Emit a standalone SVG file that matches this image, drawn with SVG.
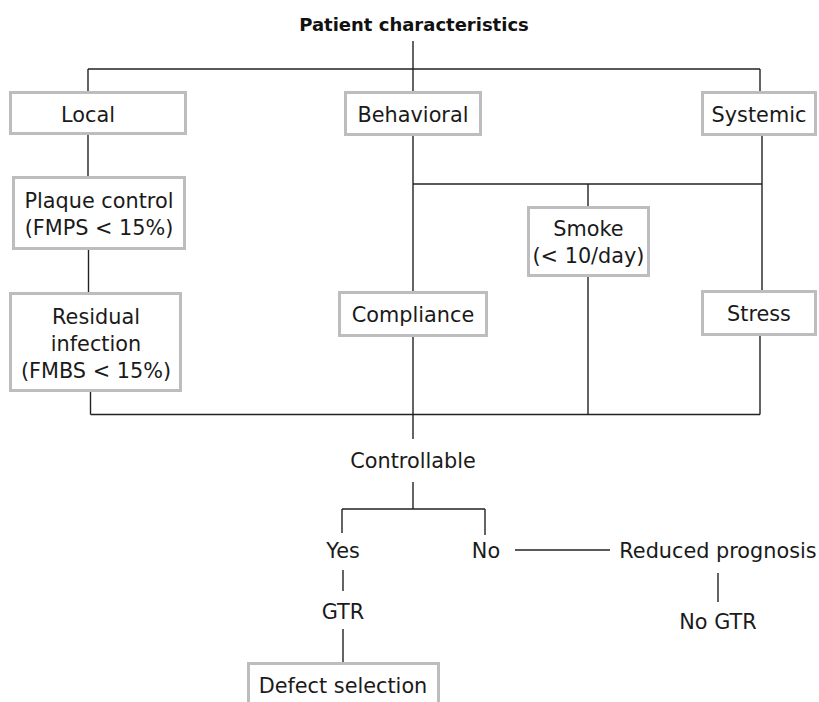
<svg xmlns="http://www.w3.org/2000/svg" width="819" height="702" viewBox="0 0 819 702">
  <style>
    .box { fill: #ffffff; stroke: #bdbdbf; stroke-width: 3; }
    .lbl { font-family: "DejaVu Sans", "Open Sans", sans-serif; font-size: 20.8px; fill: #1a1a1a; text-anchor: middle; }
    .title { font-family: "DejaVu Sans", "Open Sans", sans-serif; font-size: 18px; font-weight: bold; fill: #111; text-anchor: middle; }
    #connectors path { fill: none; stroke: #222; stroke-width: 1.4; }
  </style>
  <rect width="819" height="702" fill="#ffffff"/>

  <g id="connectors">
    <path d="M413 41 V91"/>
    <path d="M88 69 H760"/>
    <path d="M88 69 V91"/>
    <path d="M760 69 V91"/>
    <path d="M88 135 V176"/>
    <path d="M88.5 250 V292"/>
    <path d="M90.5 392 V414.5"/>
    <path d="M90.5 414.5 H760"/>
    <path d="M413 136 V291"/>
    <path d="M413 337 V439"/>
    <path d="M413 184 H762"/>
    <path d="M762 136 V290"/>
    <path d="M588 184 V206"/>
    <path d="M588 277 V414.5"/>
    <path d="M760 336 V414.5"/>
    <path d="M413 482 V509"/>
    <path d="M342 509 H485"/>
    <path d="M342 509 V533"/>
    <path d="M485 509 V535"/>
    <path d="M343 570 V591"/>
    <path d="M343 629 V662"/>
    <path d="M515 550 H610"/>
    <path d="M718 573 V602"/>
  </g>

  <g id="title">
    <text class="title" x="414" y="31">Patient characteristics</text>
  </g>

  <g id="local">
    <rect class="box" x="10.5" y="92.5" width="175" height="41"/>
    <text class="lbl" x="88" y="122">Local</text>
  </g>
  <g id="behavioral">
    <rect class="box" x="345.5" y="92.5" width="135" height="42"/>
    <text class="lbl" x="413" y="122">Behavioral</text>
  </g>
  <g id="systemic">
    <rect class="box" x="702.5" y="92.5" width="113" height="42"/>
    <text class="lbl" x="759" y="122">Systemic</text>
  </g>
  <g id="plaque-control">
    <rect class="box" x="13.5" y="177.5" width="171" height="71"/>
    <text class="lbl" x="99" y="208">Plaque control</text>
    <text class="lbl" x="99" y="235">(FMPS &lt; 15%)</text>
  </g>
  <g id="smoke">
    <rect class="box" x="528.5" y="207.5" width="120" height="68"/>
    <text class="lbl" x="588.5" y="236">Smoke</text>
    <text class="lbl" x="588.5" y="263">(&lt; 10/day)</text>
  </g>
  <g id="residual-infection">
    <rect class="box" x="10.5" y="293.5" width="170" height="97"/>
    <text class="lbl" x="96" y="324">Residual</text>
    <text class="lbl" x="96" y="351">infection</text>
    <text class="lbl" x="96" y="378">(FMBS &lt; 15%)</text>
  </g>
  <g id="compliance">
    <rect class="box" x="339.5" y="292.5" width="147" height="43"/>
    <text class="lbl" x="413" y="322">Compliance</text>
  </g>
  <g id="stress">
    <rect class="box" x="702.5" y="291.5" width="113" height="43"/>
    <text class="lbl" x="759" y="321">Stress</text>
  </g>
  <g id="controllable">
    <text class="lbl" x="413" y="468">Controllable</text>
  </g>
  <g id="yes">
    <text class="lbl" x="343" y="558">Yes</text>
  </g>
  <g id="no">
    <text class="lbl" x="486" y="558">No</text>
  </g>
  <g id="reduced-prognosis">
    <text class="lbl" x="718" y="558">Reduced prognosis</text>
  </g>
  <g id="gtr">
    <text class="lbl" x="343" y="619">GTR</text>
  </g>
  <g id="no-gtr">
    <text class="lbl" x="718" y="629">No GTR</text>
  </g>
  <g id="defect-selection">
    <rect class="box" x="248.5" y="663.5" width="190" height="48"/>
    <text class="lbl" x="343" y="693">Defect selection</text>
  </g>
</svg>
